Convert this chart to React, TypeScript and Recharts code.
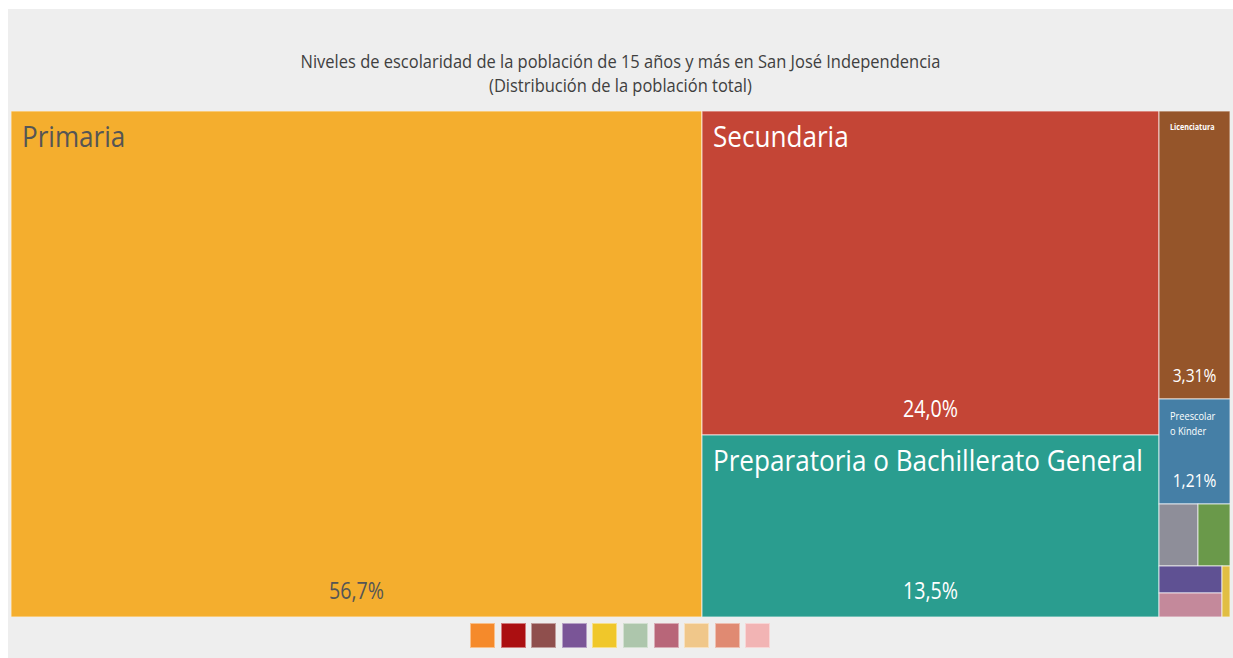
import { Treemap } from 'recharts'

const levels = [
  'Primaria',
  'Secundaria',
  'Preparatoria o Bachillerato General',
  'Licenciatura',
  'Preescolar o Kínder',
  'Bachillerato Tecnológico',
  'Normal de Licenciatura',
  'Maestría',
  'Estudios Técnicos o Comerciales con Preparatoria Terminada',
  'No Especificado',
]
const shares = [56.7, 24.0, 13.5, 3.31, 1.21, 0.39, 0.32, 0.28, 0.24, 0.05]
const cellColors = [
  '#F4AE2E', '#C44536', '#2A9D8F', '#95552A', '#457FA6',
  '#8E8E99', '#6A994A', '#5F5193', '#C4899B', '#E1BE43',
]
const legendColors = [
  '#F58A2B', '#AB0F11', '#8F4F4D', '#7A5597', '#F0C72A',
  '#ADC6AC', '#B86679', '#F0C78A', '#E08A72', '#F2B4B4',
]

const FONT = "'Open Sans', 'Noto Sans', sans-serif"

const data = levels.map((name, i) => ({ name, value: shares[i], color: cellColors[i] }))

function fmt(v: number) {
  return `${v.toPrecision(3).replace('.', ',')}%`
}

// narrow text to mimic a condensed face
function Label({ x, y, size, sx, color, anchor = 'start', bold = false, children }: any) {
  return (
    <text
      transform={`translate(${x},${y}) scale(${sx},1)`}
      x={0}
      y={0}
      fill={color}
      fontSize={size}
      fontFamily={FONT}
      fontWeight={bold ? 'bold' : 'normal'}
      textAnchor={anchor}
    >
      {children}
    </text>
  )
}

function Cell(props: any) {
  const { x, y, width, height, depth, name, value, index } = props
  if (depth !== 1) return null
  const color = cellColors[index] ?? '#999'
  const textColor = index === 0 ? '#555555' : '#ffffff'
  const big = width > 300
  const showLabel = value >= 1
  const cx = x + width / 2
  const words = String(name).split(' ')
  return (
    <g>
      <rect x={x} y={y} width={width} height={height} fill={color} stroke="rgba(255,255,255,0.7)" strokeWidth={1} />
      {showLabel && big && (
        <>
          <Label x={x + 11} y={y + 36} size={30} sx={0.87} color={textColor}>{name}</Label>
          <Label x={cx} y={y + height - 18} size={24} sx={0.82} color={textColor} anchor="middle">{fmt(value)}</Label>
        </>
      )}
      {showLabel && !big && (
        <>
          {words.length > 1 ? (
            <>
              <Label x={x + 11} y={y + 21} size={10.5} sx={0.88} color={textColor}>{words[0]}</Label>
              <Label x={x + 11} y={y + 36} size={10.5} sx={0.88} color={textColor}>{words.slice(1).join(' ')}</Label>
            </>
          ) : (
            <Label x={x + 11} y={y + 19} size={9} sx={0.8} color={textColor} bold>{name}</Label>
          )}
          <Label x={cx} y={y + height - 17} size={19} sx={0.82} color={textColor} anchor="middle">{fmt(value)}</Label>
        </>
      )}
    </g>
  )
}

export default function App() {
  return (
    <div
      style={{
        position: 'fixed',
        left: 8,
        top: 9,
        width: 1225,
        height: 649,
        background: '#EEEEEE',
        fontFamily: FONT,
        overflow: 'hidden',
      }}
    >
      <div
        style={{
          position: 'absolute',
          top: 40,
          left: 0,
          width: 1225,
          textAlign: 'center',
          fontSize: 18,
          lineHeight: '24px',
          color: '#3f3f3f',
          transform: 'scaleX(0.915)',
          transformOrigin: '612px 0',
        }}
      >
        <div>Niveles de escolaridad de la población de 15 años y más en San José Independencia</div>
        <div>(Distribución de la población total)</div>
      </div>
      <div style={{ position: 'absolute', left: 3, top: 102 }}>
        <Treemap
          width={1219}
          height={506}
          data={data}
          dataKey="value"
          nameKey="name"
          isAnimationActive={false}
          content={<Cell />}
        />
      </div>
      <div style={{ position: 'absolute', left: 462, top: 614, display: 'flex', gap: 5.6 }}>
        {legendColors.map((c) => (
          <div
            key={c}
            style={{
              width: 23,
              height: 23,
              background: c,
              border: '1px solid rgba(255,255,255,0.45)',
            }}
          />
        ))}
      </div>
    </div>
  )
}
